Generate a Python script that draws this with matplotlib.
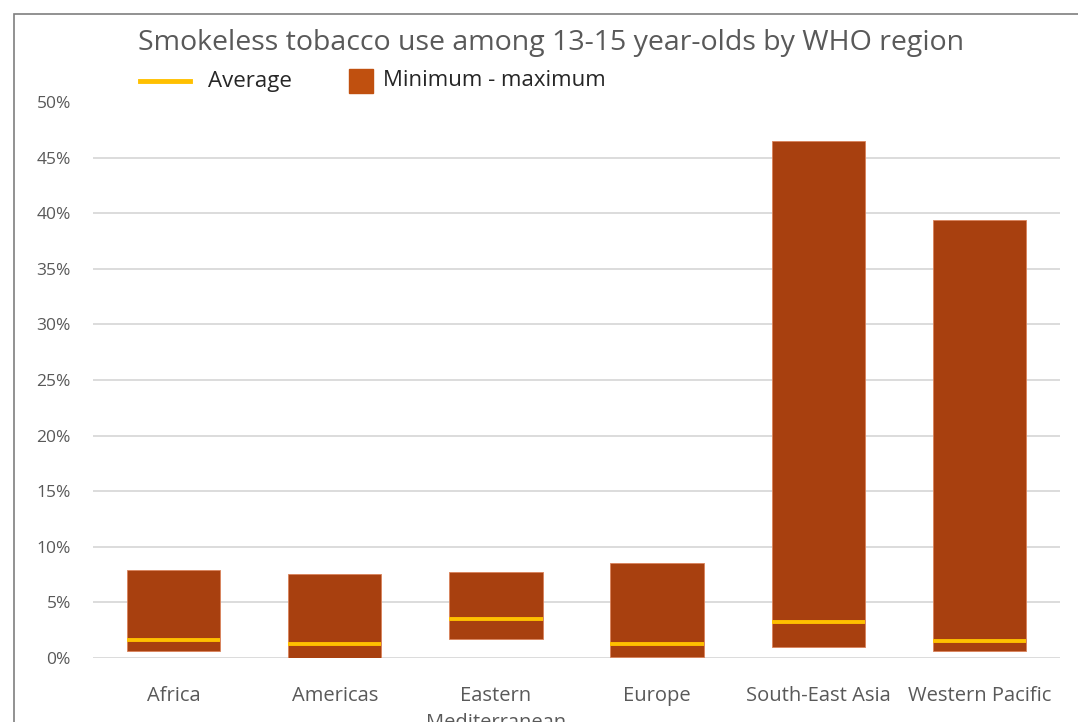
import matplotlib.pyplot as plt
import matplotlib.patches as mpatches
from matplotlib.lines import Line2D
from matplotlib.ticker import PercentFormatter

# Data (percent)
regions = ["Africa", "Americas", "Eastern\nMediterranean", "Europe",
           "South-East Asia", "Western Pacific"]
minimum = [0.6, 0.0, 1.75, 0.07, 0.97, 0.6]
maximum = [7.95, 7.55, 7.7, 8.55, 46.5, 39.4]
average = [1.6, 1.25, 3.48, 1.28, 3.25, 1.52]

BAR_COLOR = "#A8400F"
AVG_COLOR = "#FFC000"
TEXT_COLOR = "#595959"

plt.rcParams["font.family"] = ["Open Sans", "DejaVu Sans"]

W, H = 1078, 722
fig = plt.figure(figsize=(W / 100, H / 100), dpi=100)

# outer chart frame (extends beyond the right and bottom edges)
fig.patches.append(mpatches.Rectangle((14 / W, -0.1), 1.2, 1 - 14 / H + 0.1,
                                      transform=fig.transFigure, fill=False,
                                      edgecolor="#7f7f7f", lw=1.2))

ax = fig.add_axes([93 / W, 1 - 658 / H, (1060 - 93) / W, (658 - 102) / H])

x = range(len(regions))
heights = [hi - lo for lo, hi in zip(minimum, maximum)]
ax.bar(x, heights, bottom=minimum, width=0.58, color=BAR_COLOR,
       edgecolor="#D9825A", linewidth=0.6, zorder=2)
for i, avg in enumerate(average):
    ax.hlines(avg, i - 0.29, i + 0.29, color=AVG_COLOR, lw=2.8, zorder=3)

ax.set_xlim(-0.5, len(regions) - 0.5)
ax.set_ylim(0, 50)
ax.set_yticks(range(0, 51, 5))
ax.yaxis.set_major_formatter(PercentFormatter(decimals=0))
for y in range(0, 50, 5):
    ax.axhline(y, color="#D9D9D9", lw=1.3, zorder=1)

ax.set_xticks(list(x))
ax.set_xticklabels(regions, fontsize=14.5, color=TEXT_COLOR, linespacing=1.45)
ax.tick_params(axis="y", labelsize=12.5, labelcolor=TEXT_COLOR, length=0, pad=16)
ax.tick_params(axis="x", length=0, pad=20)
for s in ax.spines.values():
    s.set_visible(False)

fig.text(551 / W, 1 - 43 / H, "Smokeless tobacco use among 13-15 year-olds by WHO region",
         ha="center", va="center", fontsize=20.5, color=TEXT_COLOR)

# legend drawn by hand to match the original placement
leg_y = 1 - 81 / H
fig.lines.append(Line2D([140 / W, 190 / W], [leg_y, leg_y], transform=fig.transFigure,
                        color=AVG_COLOR, lw=3.5))
fig.text(208 / W, leg_y, "Average", ha="left", va="center", fontsize=16, color="#262626")
fig.patches.append(mpatches.Rectangle((349 / W, leg_y - 12 / H), 24 / W, 24 / H,
                                      transform=fig.transFigure, color="#C0500F"))
fig.text(383 / W, leg_y, "Minimum - maximum", ha="left", va="center", fontsize=16,
         color="#262626")

fig.savefig("out.png", dpi=100)
